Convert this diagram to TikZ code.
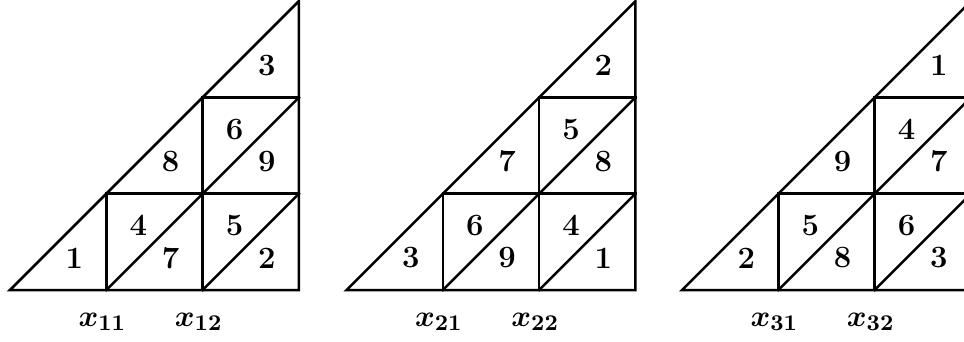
\documentclass[tikz,border=0pt]{standalone}
\newcommand\numlo[3]{\node[num] (t\tid n#3) at (#1+0.667,#2+0.333) {#3};}
\newcommand\numup[3]{\node[num] (t\tid n#3) at (#1+0.333,#2+0.667) {#3};}
\newcommand\tgrid[1]{%
  \coordinate (t#1A) at (0,0); \coordinate (t#1B) at (1,0);
  \coordinate (t#1C) at (2,0); \coordinate (t#1D) at (3,0);
  \coordinate (t#1E) at (1,1); \coordinate (t#1F) at (2,1);
  \coordinate (t#1G) at (3,1); \coordinate (t#1H) at (2,2);
  \coordinate (t#1I) at (3,2); \coordinate (t#1J) at (3,3);
  \draw[edge] (t#1A) -- (t#1D) -- (t#1J) -- cycle;
  \draw[edge] (t#1B) -- (t#1E) -- (t#1G);
  \draw[edge] (t#1C) -- (t#1H) -- (t#1I);
  \draw[edge] (t#1B) -- (t#1I);
  \draw[edge] (t#1C) -- (t#1G);
  \node[lab] (t#1x1) at (0.96,-0.33) {$x_{#11}$};
  \node[lab] (t#1x2) at (1.96,-0.33) {$x_{#12}$};
}
\begin{document}
\begin{tikzpicture}[x=0.4pt,y=0.4pt,
  edge/.style={line width=1pt, line join=miter, line cap=rect},
  num/.style={font=\fontsize{12.4}{14}\selectfont\bfseries, inner sep=0pt},
  lab/.style={font=\fontsize{12.4}{14}\selectfont\boldmath, inner sep=0pt}]
\useasboundingbox (0,0) rectangle (964,341);
\begin{scope}[shift={(4pt,20.4pt)}, x=38.52pt, y=38.52pt]
  \def\tid{1}
  \tgrid{1}
  \numlo{0}{0}{1} \numup{1}{0}{4} \numlo{1}{0}{7}
  \numup{2}{0}{5} \numlo{2}{0}{2} \numlo{1}{1}{8}
  \numup{2}{1}{6} \numlo{2}{1}{9} \numlo{2}{2}{3}
\end{scope}
\begin{scope}[shift={(138.6pt,20.4pt)}, x=38.52pt, y=38.52pt]
  \def\tid{2}
  \tgrid{2}
  \numlo{0}{0}{3} \numup{1}{0}{6} \numlo{1}{0}{9}
  \numup{2}{0}{4} \numlo{2}{0}{1} \numlo{1}{1}{7}
  \numup{2}{1}{5} \numlo{2}{1}{8} \numlo{2}{2}{2}
\end{scope}
\begin{scope}[shift={(272.8pt,20.4pt)}, x=38.52pt, y=38.52pt]
  \def\tid{3}
  \tgrid{3}
  \numlo{0}{0}{2} \numup{1}{0}{5} \numlo{1}{0}{8}
  \numup{2}{0}{6} \numlo{2}{0}{3} \numlo{1}{1}{9}
  \numup{2}{1}{4} \numlo{2}{1}{7} \numlo{2}{2}{1}
\end{scope}
\end{tikzpicture}
\end{document}
